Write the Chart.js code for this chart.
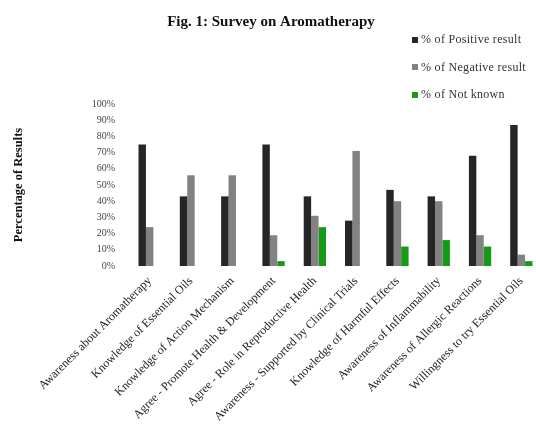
<!DOCTYPE html>
<html>
<head>
<meta charset="utf-8">
<script src="https://cdn.jsdelivr.net/npm/chart.js@4"></script>
<style>
  html, body { margin: 0; padding: 0; background: #fff; overflow: hidden; }
  #wrap { position: relative; width: 536px; height: 431px; overflow: hidden; }
  #legend { position: absolute; left: 412px; top: 26px; font: 12px "Liberation Serif", serif; color: #333; letter-spacing: 0.3px; }
  .item { height: 27.5px; display: flex; align-items: center; white-space: nowrap; }
  .box { width: 6px; height: 6px; margin-right: 3px; }
</style>
</head>
<body>
<div id="wrap">
  <canvas id="chart" width="542" height="431"></canvas>
  <div id="legend"></div>
</div>
<script>
const categories = [
  "Awareness about Aromatherapy",
  "Knowledge of Essential Oils",
  "Knowledge of Action Mechanism",
  "Agree - Promote Health & Development",
  "Agree - Role in Reproductive Health",
  "Awareness - Supported by Clinical Trials",
  "Knowledge of Harmful Effects",
  "Awareness of Inflammability",
  "Awareness of Allergic Reactions",
  "Willingness to try Essential Oils"
];
const positive = [75, 43, 43, 75, 43, 28, 47, 43, 68, 87];
const negative = [24, 56, 56, 19, 31, 71, 40, 40, 19, 7];
const notKnown = [0, 0, 0, 3, 24, 0, 12, 16, 12, 3];
const seriesNames = ["% of Positive result", "% of Negative result", "% of Not known"];
const seriesColors = ["#262626", "#828282", "#159a15"];

const serif = "'Liberation Serif', 'Times New Roman', serif";

const chart = new Chart(document.getElementById("chart"), {
  type: "bar",
  data: {
    labels: categories,
    datasets: [positive, negative, notKnown].map((d, i) => ({
      label: seriesNames[i],
      data: d,
      backgroundColor: seriesColors[i],
      categoryPercentage: 0.54,
      barPercentage: 1
    }))
  },
  options: {
    responsive: false,
    animation: false,
    layout: { padding: 0 },
    plugins: {
      legend: { display: false },
      tooltip: { enabled: false },
      title: {
        display: true,
        text: "Fig. 1: Survey on Aromatherapy",
        color: "#111",
        font: { family: serif, size: 15, weight: "bold", lineHeight: 1.2 },
        padding: { top: 13, bottom: 73 }
      }
    },
    scales: {
      x: {
        grid: { display: false, drawTicks: false },
        border: { display: false },
        ticks: {
          autoSkip: false,
          maxRotation: 45,
          minRotation: 45,
          padding: 8,
          color: "#222",
          font: { family: serif, size: 12 }
        },
        afterFit: s => { s.height = 165; }
      },
      y: {
        min: 0,
        max: 100,
        grid: { display: false, drawTicks: false },
        border: { display: false },
        ticks: {
          stepSize: 10,
          padding: 14,
          color: "#444",
          font: { family: serif, size: 10 },
          callback: v => v + "%"
        },
        title: {
          display: true,
          text: "Percentage of Results",
          color: "#111",
          font: { family: serif, size: 12.5, weight: "bold", lineHeight: 1.2 },
          padding: { top: 11, bottom: 0 }
        },
        afterFit: s => { s.width = 129; }
      }
    }
  }
});

// legend built from the dataset names and colours
const legend = document.getElementById("legend");
chart.data.datasets.forEach(ds => {
  const item = document.createElement("div");
  item.className = "item";
  item.innerHTML = '<span class="box" style="background:' + ds.backgroundColor + '"></span>' + ds.label;
  legend.appendChild(item);
});
</script>
</body>
</html>
